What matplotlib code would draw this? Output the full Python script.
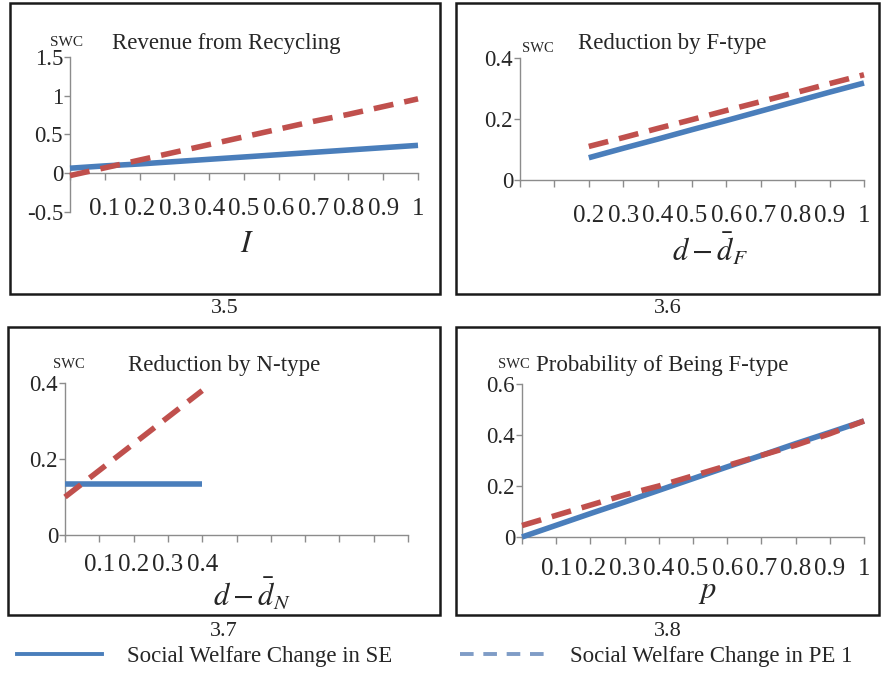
import matplotlib
matplotlib.use("Agg")
import matplotlib.pyplot as plt
from matplotlib.patches import Rectangle
from matplotlib.lines import Line2D

plt.rcParams['font.family'] = ['Liberation Serif', 'DejaVu Serif']
plt.rcParams['mathtext.fontset'] = 'stix'

# ---------------- data ----------------
titles = ['Revenue from Recycling', 'Reduction by F-type',
          'Reduction by N-type', 'Probability of Being F-type']
captions = ['3.5', '3.6', '3.7', '3.8']
xlabels = [r'$I$', r'$d-\bar{d}_F$', r'$d-\bar{d}_N$', r'$p$']
series_names = ['Social Welfare Change in SE', 'Social Welfare Change in PE 1']

x_ticks = [0, 0.1, 0.2, 0.3, 0.4, 0.5, 0.6, 0.7, 0.8, 0.9, 1.0]
xtick_labels_1 = ['', '0.1', '0.2', '0.3', '0.4', '0.5', '0.6', '0.7', '0.8', '0.9', '1']
xtick_labels_2 = ['', '', '0.2', '0.3', '0.4', '0.5', '0.6', '0.7', '0.8', '0.9', '1']
xtick_labels_3 = ['', '0.1', '0.2', '0.3', '0.4', '', '', '', '', '', '']
xtick_labels_4 = ['', '0.1', '0.2', '0.3', '0.4', '0.5', '0.6', '0.7', '0.8', '0.9', '1']

yticks_1 = [-0.5, 0, 0.5, 1, 1.5]
ytick_labels_1 = ['-0.5', '0', '0.5', '1', '1.5']
yticks_2 = [0, 0.2, 0.4]
ytick_labels_2 = ['0', '0.2', '0.4']
yticks_3 = [0, 0.2, 0.4]
ytick_labels_3 = ['0', '0.2', '0.4']
yticks_4 = [0, 0.2, 0.4, 0.6]
ytick_labels_4 = ['0', '0.2', '0.4', '0.6']

# panel 3.5 : revenue from recycling
x1 = [0, 0.1, 0.2, 0.3, 0.4, 0.5, 0.6, 0.7, 0.8, 0.9, 1.0]
se1 = [0.065, 0.095, 0.12, 0.15, 0.18, 0.21, 0.24, 0.27, 0.30, 0.33, 0.36]
pe1 = [-0.03, 0.07, 0.17, 0.27, 0.37, 0.47, 0.57, 0.67, 0.76, 0.86, 0.96]

# panel 3.6 : reduction by F-type
x2 = [0.2, 0.3, 0.4, 0.5, 0.6, 0.7, 0.8, 0.9, 1.0]
se2 = [0.073, 0.104, 0.134, 0.165, 0.195, 0.226, 0.257, 0.288, 0.318]
pe2 = [0.11, 0.139, 0.169, 0.198, 0.228, 0.257, 0.286, 0.316, 0.345]

# panel 3.7 : reduction by N-type
x3 = [0, 0.1, 0.2, 0.3, 0.4]
se3 = [0.133, 0.133, 0.133, 0.133, 0.133]
pe3 = [0.10, 0.17, 0.24, 0.31, 0.38]

# panel 3.8 : probability of being F-type
x4 = [0, 0.1, 0.2, 0.3, 0.4, 0.5, 0.6, 0.7, 0.8, 0.9, 1.0]
se4 = [0.0, 0.046, 0.092, 0.137, 0.183, 0.229, 0.275, 0.32, 0.366, 0.41, 0.455]
pe4 = [0.045, 0.085, 0.125, 0.165, 0.20, 0.24, 0.28, 0.32, 0.36, 0.405, 0.455]

# ---------------- layout ----------------
W, H = 881, 677
fig = plt.figure(figsize=(W / 100, H / 100), dpi=100)
fig.patch.set_facecolor('white')

BLUE = '#4A7EBB'
RED = '#C0504D'
SPINE = '#8C8C8C'
TXT = '#262626'


def fx(x):
    return x / W


def fy(y):
    return 1 - y / H


def box(l, r, t, b):
    fig.add_artist(Rectangle((fx(l), fy(b)), (r - l) / W, (b - t) / H,
                             transform=fig.transFigure, fill=False,
                             lw=1.8, ec='#1a1a1a'))


panels = [
    dict(box=(10, 440, 3, 294), ax=(70, 418, 57, 212), ylim=(-0.5, 1.5),
         x=x1, se=se1, pe=pe1, yt=yticks_1, ytl=ytick_labels_1, xtl=xtick_labels_1,
         title=(226, 43), swc=(50, 43, 11), xlab=(247, 244), cap=(225, 309), pad=13),
    dict(box=(456, 879, 3, 294), ax=(520, 864, 58, 180), ylim=(0, 0.4),
         x=x2, se=se2, pe=pe2, yt=yticks_2, ytl=ytick_labels_2, xtl=xtick_labels_2,
         title=(672, 43), swc=(522, 48, 10.5), xlab=(710, 249), cap=(668, 309), pad=13),
    dict(box=(8, 440, 327, 615), ax=(65, 408, 383, 535), ylim=(0, 0.4),
         x=x3, se=se3, pe=pe3, yt=yticks_3, ytl=ytick_labels_3, xtl=xtick_labels_3,
         title=(224, 365), swc=(53, 365, 10.5), xlab=(252, 594), cap=(224, 631), pad=9),
    dict(box=(456, 879, 327, 615), ax=(522, 864, 384, 537), ylim=(0, 0.6),
         x=x4, se=se4, pe=pe4, yt=yticks_4, ytl=ytick_labels_4, xtl=xtick_labels_4,
         title=(662, 365), swc=(498, 365, 10.5), xlab=(707, 591), cap=(668, 631), pad=10),
]

for i, p in enumerate(panels):
    box(*p['box'])
    l, r, t, b = p['ax']
    ax = fig.add_axes([fx(l), fy(b), (r - l) / W, (b - t) / H])
    ax.set_facecolor('none')
    ax.plot(p['x'], p['se'], color=BLUE, lw=4, solid_capstyle='butt',
            clip_on=False, zorder=3)
    ax.plot(p['x'], p['pe'], color=RED, lw=4, dashes=(3.6, 2.0),
            dash_capstyle='butt', clip_on=False, zorder=4)
    ax.set_xlim(0, 1)
    ax.set_ylim(*p['ylim'])
    for s in ['top', 'right']:
        ax.spines[s].set_visible(False)
    for s in ['left', 'bottom']:
        ax.spines[s].set_color(SPINE)
        ax.spines[s].set_linewidth(1.0)
    ax.spines['bottom'].set_position(('data', 0))
    ax.set_xticks(x_ticks)
    ax.set_xticklabels(p['xtl'])
    ax.set_yticks(p['yt'])
    ax.set_yticklabels(p['ytl'])
    ax.tick_params(axis='x', direction='out', length=5, width=1.0, color=SPINE,
                   labelsize=18, labelcolor=TXT, pad=p['pad'])
    ax.tick_params(axis='y', direction='out', length=4, width=1.0, color=SPINE,
                   labelsize=16.5, labelcolor=TXT, pad=1)

    tx, ty = p['title']
    fig.text(fx(tx), fy(ty), titles[i], ha='center', va='center',
             fontsize=16.5, color=TXT)
    sx, sy, ss = p['swc']
    fig.text(fx(sx), fy(sy), 'SWC', ha='left', va='center', fontsize=ss, color=TXT)
    lx, ly = p['xlab']
    fig.text(fx(lx), fy(ly), xlabels[i], ha='center', va='center',
             fontsize=22, color=TXT)
    cx, cy = p['cap']
    fig.text(fx(cx), fy(cy), captions[i], ha='center', va='center',
             fontsize=16, color=TXT)

handles = [Line2D([], [], color=BLUE, lw=2.8),
           Line2D([], [], color='#7F9CC6', lw=2.8, dashes=(3.5, 2.5))]
fig.legend(handles, series_names, loc='center left',
           bbox_to_anchor=(fx(17), fy(656)), ncol=2, frameon=False,
           fontsize=16.5, handlelength=3.7, handletextpad=1.1,
           columnspacing=2.95, borderpad=0, borderaxespad=0,
           labelcolor=TXT)

fig.savefig('out.png', dpi=100)
